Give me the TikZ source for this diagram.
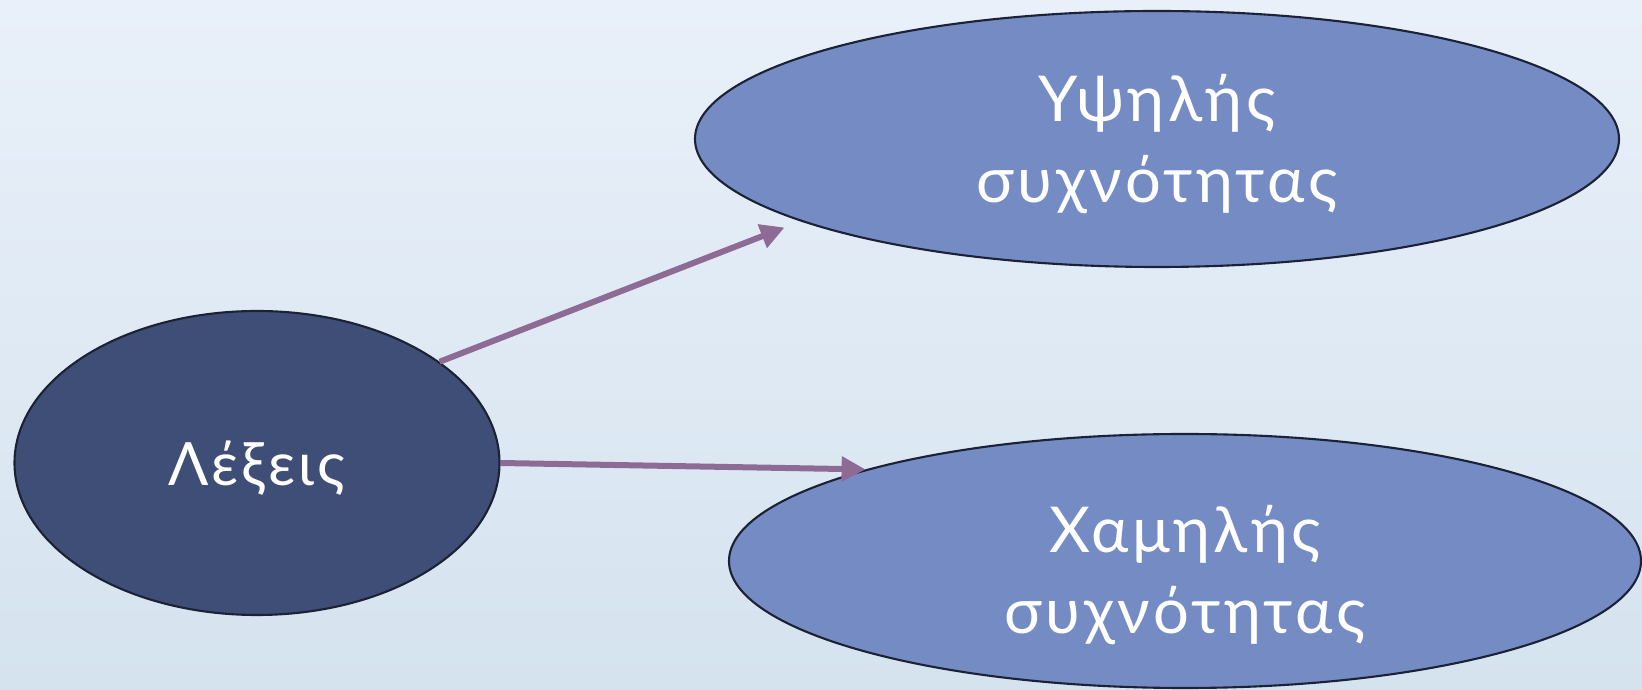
\documentclass[tikz,border=0pt]{standalone}
\usepackage{fontspec}
\setmainfont{Lato}[LetterSpace=5.5]
\usetikzlibrary{shapes.geometric, arrows.meta}

\definecolor{wordfill}{HTML}{3F4E76}
\definecolor{freqfill}{HTML}{748BC4}
\definecolor{rimline}{HTML}{1B2236}
\definecolor{linkcol}{HTML}{8E6B95}
\definecolor{bgtop}{HTML}{E9F0F9}
\definecolor{bgbot}{HTML}{D5E3EF}

% move a line of text down without changing its box
\newcommand{\droptext}[2]{\raisebox{-#1}[\height][\depth]{#2}}

\begin{document}
\begin{tikzpicture}[
    blob/.style={ellipse, draw=rimline, line width=0.6pt, inner sep=0pt,
        text=white, align=center, font=\fontsize{18}{23}\selectfont},
    link/.style={-{Triangle[length=2.4mm, width=2.4mm]}, line width=0.6mm, linkcol}
]
    % Background
    \shade[top color=bgtop, bottom color=bgbot] (0,0) rectangle (16.42,6.9);
    \useasboundingbox (0,0) rectangle (16.42,6.9);

    % Ellipses
    \node[blob, fill=wordfill, minimum width=4.85cm, minimum height=3.04cm,
        font=\fontsize{17}{21}\selectfont] (lexeis) at (2.57,2.27) {\droptext{0.5mm}{Λέξεις}};
    \node[blob, fill=freqfill, minimum width=9.24cm, minimum height=2.56cm] (high) at (11.57,5.51)
        {\droptext{0.5mm}{Υψηλής}\\\droptext{0.5mm}{συχνότητας}};
    \node[blob, fill=freqfill, minimum width=9.12cm, minimum height=2.54cm] (low) at (11.85,1.29)
        {\droptext{1.4mm}{Χαμηλής}\\\droptext{1.4mm}{συχνότητας}};

    % Arrows
    \draw[link, shorten >=1.7mm] (lexeis.29) -- (high.193);
    \draw[link] (lexeis.east) -- (low.164.5);
\end{tikzpicture}
\end{document}
